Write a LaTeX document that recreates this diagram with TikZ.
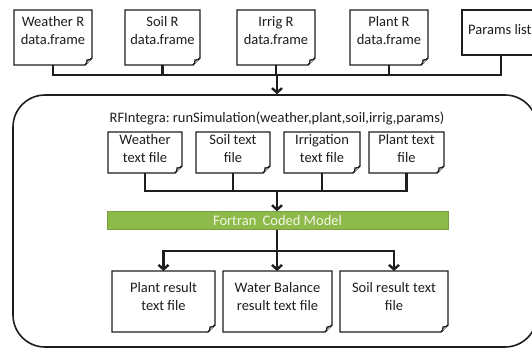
\documentclass[tikz,border=0pt]{standalone}
\usepackage{fontspec}
\setmainfont{Carlito}
\usetikzlibrary{arrows.meta}
\definecolor{barGreen}{RGB}{142,186,76}
\definecolor{barText}{RGB}{242,246,228}
\definecolor{ink}{RGB}{30,30,30}
\newcommand\foldbox[1]{%
  \draw[boxline] (#1.north west) -- (#1.north east) -- ([yshift=7pt]#1.south east)
    -- ([xshift=-7pt]#1.south east) -- (#1.south west) -- cycle;
  \draw[boxline] ([xshift=-7pt]#1.south east)
    .. controls ([xshift=-5pt,yshift=2pt]#1.south east) .. ([xshift=-5pt,yshift=5pt]#1.south east)
    .. controls ([xshift=-2pt,yshift=5pt]#1.south east) .. ([yshift=7pt]#1.south east);
}
\begin{document}
\begin{tikzpicture}[x=1pt,y=-1pt,
  docbox/.style={rectangle,inner sep=0pt,outer sep=0pt},
  boxline/.style={line width=1.3pt,draw=ink,fill=white,line join=miter},
  boxtext/.style={font=\fontsize{14.5}{18}\selectfont,align=center,text=ink,inner sep=0pt},
  conn/.style={line width=2.4pt,draw=ink},
  arr/.style={conn,-{Straight Barb[length=4.5pt,width=10pt]}},
  container/.style={draw=ink,line width=1.6pt,rounded corners=32pt,rectangle,inner sep=0pt},
  barstyle/.style={fill=barGreen,draw=barGreen!85!black,line width=0.4pt,rectangle,inner sep=0pt,
    text=barText,font=\fontsize{14.5}{18}\selectfont}]
\useasboundingbox (0,0) rectangle (532,349);

% container
\node[container,minimum width=524pt,minimum height=252pt] (rf) at (275,221) {};
\node[boxtext] (rft) at (277,118) {RFIntegra:\ runSimulation(weather,plant,soil,irrig,params)};

% top data frames
\node[docbox,minimum width=78pt,minimum height=55pt] (wR) at (53,37.5) {};
\node[docbox,minimum width=75pt,minimum height=55pt] (sR) at (162.5,37.5) {};
\node[docbox,minimum width=78pt,minimum height=55pt] (iR) at (276,37.5) {};
\node[docbox,minimum width=78pt,minimum height=55pt] (pR) at (389,37.5) {};
\node[docbox,minimum width=78pt,minimum height=45pt] (pl) at (501,32.5) {};
\foldbox{wR}\foldbox{sR}\foldbox{iR}\foldbox{pR}
\draw[boxline] (pl.north west) rectangle ([xshift=80pt]pl.south east);
\node[boxtext] (wRt) at (53,31) {Weather R\\data.frame};
\node[boxtext] (sRt) at (162.5,31) {Soil R\\data.frame};
\node[boxtext] (iRt) at (276,31) {Irrig R\\data.frame};
\node[boxtext] (pRt) at (389,31) {Plant R\\data.frame};
\node[boxtext,anchor=west] (plt) at (468,30) {Params list};

\coordinate (tb) at (277,75);
\draw[conn] (wR.south) |- (pl.south |- tb) -- (pl.south);
\draw[conn] (sR.south) -- (sR.south |- tb);
\draw[conn] (iR.south) -- (iR.south |- tb);
\draw[conn] (pR.south) -- (pR.south |- tb);
\draw[arr] (tb) -- (tb |- rf.north);

% inner text files
\node[docbox,minimum width=74pt,minimum height=41pt] (wt) at (145,152.5) {};
\node[docbox,minimum width=74pt,minimum height=41pt] (st) at (233,152.5) {};
\node[docbox,minimum width=76pt,minimum height=41pt] (it) at (322,152.5) {};
\node[docbox,minimum width=75pt,minimum height=41pt] (ptf) at (406.5,152.5) {};
\foldbox{wt}\foldbox{st}\foldbox{it}\foldbox{ptf}
\node[boxtext] (wtt) at (145,149) {Weather\\text file};
\node[boxtext] (stt) at (233,149) {Soil text\\file};
\node[boxtext] (itt) at (322,149) {Irrigation\\text file};
\node[boxtext] (ptt) at (406.5,149) {Plant text\\file};

\coordinate (ib) at (277,191);
\draw[conn] (wt.south) |- (ptf.south |- ib) -- (ptf.south);
\draw[conn] (st.south) -- (st.south |- ib);
\draw[conn] (it.south) -- (it.south |- ib);

% fortran bar
\node[barstyle,minimum width=341pt,minimum height=18pt] (fm) at (277.5,220.5) {Fortran\hspace{3pt} Coded Model};
\draw[arr] (ib) -- (ib |- fm.north);

% results
\node[docbox,minimum width=103pt,minimum height=61pt] (pr) at (163.5,301.5) {};
\node[docbox,minimum width=109pt,minimum height=61pt] (wb) at (277.5,301.5) {};
\node[docbox,minimum width=108pt,minimum height=61pt] (sr) at (394,301.5) {};
\foldbox{pr}\foldbox{wb}\foldbox{sr}
\node[boxtext] (prt) at (163.5,297) {Plant result\\text file};
\node[boxtext] (wbt) at (277.5,297) {Water Balance\\result text file};
\node[boxtext] (srt) at (394,297) {Soil result text\\file};

\coordinate (bb) at (277,251);
\draw[conn] (fm.south -| bb) -- (bb);
\draw[arr] (bb) -| (pr.north);
\draw[arr] (bb) -| (sr.north);
\draw[arr] (bb) -- (bb |- wb.north);
\end{tikzpicture}
\end{document}
